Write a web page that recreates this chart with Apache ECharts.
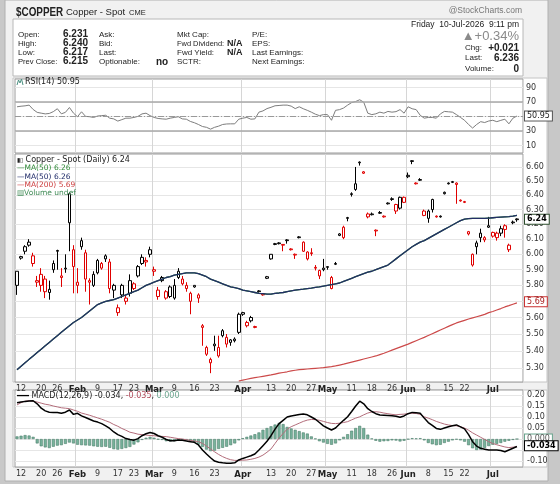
<!DOCTYPE html>
<html>
<head>
<meta charset="utf-8">
<script src="https://cdn.jsdelivr.net/npm/echarts/dist/echarts.min.js"></script>
<style>
  html, body { margin: 0; padding: 0; background: #c8c8c8; }
  #main { width: 560px; height: 484px; }
</style>
</head>
<body>
<div id="main"></div>
<script>
// trading days Jan 9 .. Jul 10 2026 (CME holidays left out)
var holidays = ['2026-01-19', '2026-02-16', '2026-04-03', '2026-05-25', '2026-06-19', '2026-07-03'];
var dates = [];
for (var t = Date.UTC(2026, 0, 9); t <= Date.UTC(2026, 6, 10); t += 86400000) {
    var d = new Date(t), wd = d.getUTCDay(), s = d.toISOString().slice(0, 10);
    if (wd > 0 && wd < 6 && holidays.indexOf(s) < 0) dates.push(s);
}
dates.push(''); // a little room right of the last candle

var tickDates = ['2026-01-12', '2026-01-20', '2026-01-26', '2026-02-02', '2026-02-09', '2026-02-17', '2026-02-23',
    '2026-03-02', '2026-03-09', '2026-03-16', '2026-03-23', '2026-04-01', '2026-04-13', '2026-04-20', '2026-04-27',
    '2026-05-01', '2026-05-11', '2026-05-18', '2026-05-26', '2026-06-01', '2026-06-08', '2026-06-15', '2026-06-22',
    '2026-07-01', '2026-07-06'];
var tickTexts = ['12', '20', '26', 'Feb', '9', '17', '23', 'Mar', '9', '16', '23', 'Apr', '13', '20', '27',
    'May', '11', '18', '26', 'Jun', '8', '15', '22', 'Jul', '6'];
var monthDates = ['2026-02-02', '2026-03-02', '2026-04-01', '2026-05-01', '2026-06-01', '2026-07-01'];

var priceTicks = [5.30, 5.40, 5.50, 5.60, 5.70, 5.80, 5.90, 6.00, 6.10, 6.20, 6.30, 6.40, 6.50, 6.60];
var rsiTicks = [10, 30, 50, 70, 90];
var macdTicks = [-0.10, -0.05, 0, 0.05, 0.10, 0.15, 0.20];
var macdLabelTicks = [-0.10, 0.05, 0.10, 0.15, 0.20];

var opens = [5.80, 5.975, 6.05, 6.08, 5.94, 5.83, 5.87, 5.84, 5.755, 5.90,
    6.02, 5.86, 5.905, 6.41, 6.03, 5.80, 6.05, 6.01, 5.83, 5.80,
    5.88, 5.94, 5.99, 5.95, 5.77, 5.66, 5.74, 5.70, 5.75, 5.81,
    5.86, 5.94, 5.96, 6.03, 5.90, 5.73, 5.83, 5.72, 5.73, 5.72,
    5.85, 5.81, 5.78, 5.75, 5.80, 5.74, 5.54, 5.38, 5.35, 5.43,
    5.37, 5.49, 5.48, 5.45, 5.46, 5.51, 5.62, 5.55, 5.60, 5.545,
    5.76, 5.745, 5.845, 6.00, 6.065, 6.07, 6.065, 6.09, 6.035, 6.00,
    6.11, 6.02, 5.97, 6.01, 5.915, 5.895, 5.90, 5.915, 5.85, 5.935,
    6.125, 6.18, 6.24, 6.405, 6.44, 6.63, 6.555, 6.27, 6.265, 6.16,
    6.275, 6.255, 6.34, 6.37, 6.335, 6.31, 6.385, 6.53, 6.64, 6.485,
    6.505, 6.29, 6.24, 6.37, 6.255, 6.25, 6.41, 6.48, 6.49, 6.485,
    6.365, 6.355, 6.15, 6.00, 6.05, 6.11, 6.11, 6.18, 6.145, 6.14,
    6.14, 6.19, 6.03, 6.21, 6.231];
var highs = [5.89, 5.99, 6.06, 6.10, 6.01, 5.86, 5.91, 5.86, 5.83, 5.96,
    6.03, 5.91, 6.00, 6.42, 6.06, 5.91, 6.11, 6.03, 5.845, 5.89,
    5.97, 5.95, 6.00, 5.97, 5.81, 5.68, 5.81, 5.74, 5.87, 5.82,
    5.93, 6.00, 5.98, 6.05, 5.92, 5.79, 5.86, 5.77, 5.80, 5.84,
    5.91, 5.86, 5.82, 5.76, 5.80, 5.75, 5.56, 5.43, 5.36, 5.49,
    5.49, 5.53, 5.50, 5.47, 5.48, 5.63, 5.635, 5.58, 5.61, 5.55,
    5.77, 5.75, 5.86, 6.00, 6.075, 6.08, 6.065, 6.10, 6.04, 6.005,
    6.12, 6.085, 6.02, 6.04, 5.93, 5.90, 5.97, 5.92, 5.86, 5.95,
    6.14, 6.19, 6.25, 6.42, 6.60, 6.64, 6.57, 6.28, 6.28, 6.165,
    6.29, 6.26, 6.35, 6.385, 6.34, 6.39, 6.39, 6.56, 6.65, 6.49,
    6.52, 6.30, 6.30, 6.375, 6.26, 6.26, 6.425, 6.49, 6.50, 6.49,
    6.37, 6.36, 6.155, 6.005, 6.09, 6.17, 6.12, 6.25, 6.15, 6.15,
    6.19, 6.20, 6.07, 6.225, 6.240];
var lows = [5.74, 5.965, 6.00, 6.05, 5.92, 5.79, 5.76, 5.72, 5.71, 5.88,
    5.90, 5.79, 5.88, 6.02, 5.75, 5.75, 6.03, 5.76, 5.68, 5.79,
    5.87, 5.90, 5.95, 5.75, 5.72, 5.61, 5.72, 5.68, 5.73, 5.77,
    5.85, 5.93, 5.92, 5.98, 5.86, 5.71, 5.82, 5.71, 5.72, 5.71,
    5.84, 5.80, 5.76, 5.62, 5.785, 5.69, 5.43, 5.37, 5.27, 5.40,
    5.36, 5.48, 5.42, 5.43, 5.45, 5.50, 5.61, 5.54, 5.57, 5.535,
    5.755, 5.735, 5.84, 5.965, 6.06, 6.065, 6.02, 6.07, 6.025, 5.97,
    6.105, 6.015, 5.96, 5.99, 5.895, 5.84, 5.89, 5.90, 5.775, 5.93,
    6.12, 6.10, 6.22, 6.39, 6.43, 6.61, 6.55, 6.24, 6.26, 6.12,
    6.27, 6.245, 6.335, 6.36, 6.27, 6.30, 6.345, 6.52, 6.62, 6.475,
    6.50, 6.255, 6.21, 6.28, 6.245, 6.245, 6.405, 6.475, 6.485, 6.34,
    6.355, 6.345, 6.125, 5.92, 6.00, 6.08, 6.08, 6.175, 6.11, 6.09,
    6.12, 6.11, 6.015, 6.20, 6.217];
var closes = [5.89, 5.985, 6.02, 6.06, 5.99, 5.82, 5.80, 5.76, 5.775, 5.94,
    6.025, 5.85, 5.91, 6.21, 5.92, 5.82, 6.09, 5.84, 5.82, 5.87,
    5.96, 5.91, 5.97, 5.78, 5.80, 5.63, 5.80, 5.72, 5.83, 5.78,
    5.92, 5.98, 5.95, 6.00, 5.89, 5.77, 5.85, 5.76, 5.79, 5.80,
    5.89, 5.84, 5.80, 5.70, 5.79, 5.72, 5.55, 5.42, 5.33, 5.44,
    5.42, 5.52, 5.44, 5.465, 5.47, 5.62, 5.63, 5.57, 5.58, 5.54,
    5.765, 5.74, 5.855, 5.97, 6.07, 6.075, 6.06, 6.095, 6.03, 5.995,
    6.115, 6.08, 6.015, 6.005, 5.91, 5.86, 5.91, 5.92, 5.78, 5.94,
    6.135, 6.11, 6.245, 6.41, 6.48, 6.635, 6.565, 6.25, 6.27, 6.155,
    6.28, 6.25, 6.345, 6.375, 6.29, 6.385, 6.35, 6.54, 6.645, 6.48,
    6.51, 6.26, 6.29, 6.30, 6.25, 6.255, 6.42, 6.485, 6.495, 6.475,
    6.36, 6.35, 6.135, 5.93, 6.075, 6.14, 6.095, 6.19, 6.12, 6.11,
    6.17, 6.165, 6.06, 6.215, 6.236];

var ma50 = [5.29, 5.31, 5.33, 5.35, 5.37, 5.39, 5.41, 5.43, 5.45, 5.47,
    5.49, 5.51, 5.53, 5.55, 5.57, 5.585, 5.60, 5.62, 5.64, 5.66,
    5.68, 5.69, 5.70, 5.705, 5.71, 5.72, 5.73, 5.74, 5.75, 5.76,
    5.77, 5.785, 5.80, 5.81, 5.82, 5.83, 5.84, 5.85, 5.855, 5.865,
    5.87, 5.875, 5.88, 5.88, 5.88, 5.875, 5.865, 5.855, 5.84, 5.83,
    5.82, 5.81, 5.80, 5.79, 5.785, 5.78, 5.77, 5.765, 5.76, 5.755,
    5.75, 5.748, 5.745, 5.745, 5.75, 5.752, 5.755, 5.76, 5.765, 5.77,
    5.773, 5.776, 5.78, 5.783, 5.787, 5.79, 5.795, 5.80, 5.805, 5.81,
    5.815, 5.825, 5.835, 5.845, 5.855, 5.865, 5.875, 5.885, 5.89, 5.90,
    5.91, 5.92, 5.93, 5.95, 5.97, 5.99, 6.01, 6.03, 6.05, 6.065,
    6.08, 6.09, 6.105, 6.12, 6.135, 6.15, 6.165, 6.18, 6.195, 6.21,
    6.225, 6.235, 6.238, 6.24, 6.24, 6.24, 6.24, 6.242, 6.244, 6.246,
    6.248, 6.25, 6.252, 6.255, 6.26];
var ma200 = ['-', '-', '-', '-', '-', '-', '-', '-', '-', '-',
    '-', '-', '-', '-', '-', '-', '-', '-', '-', '-',
    '-', '-', '-', '-', '-', '-', '-', '-', '-', '-',
    '-', '-', '-', '-', '-', '-', '-', '-', '-', '-',
    '-', '-', '-', '-', '-', '-', '-', '-', '-', '-',
    '-', '-', '-', '-', '-', 5.225, 5.23, 5.235, 5.24, 5.244,
    5.248, 5.252, 5.256, 5.26, 5.265, 5.27, 5.274, 5.278, 5.283, 5.287,
    5.29, 5.292, 5.294, 5.296, 5.298, 5.30, 5.302, 5.305, 5.308, 5.312,
    5.317, 5.322, 5.328, 5.334, 5.34, 5.346, 5.352, 5.358, 5.364, 5.37,
    5.378, 5.386, 5.395, 5.404, 5.413, 5.422, 5.431, 5.44, 5.45, 5.46,
    5.47, 5.48, 5.491, 5.502, 5.513, 5.524, 5.535, 5.546, 5.557, 5.567,
    5.575, 5.583, 5.591, 5.598, 5.605, 5.612, 5.619, 5.63, 5.637, 5.646,
    5.655, 5.665, 5.673, 5.682, 5.69];

var rsi = [63.7, 64.5, 65, 66, 60, 56, 54.9, 53.9, 54.5, 57,
    61, 54, 56, 62.7, 55, 50, 56.8, 50.5, 50, 49,
    51, 51.5, 52, 48, 47, 44, 46, 48, 48, 49,
    50.5, 53.9, 54.9, 51.5, 49, 47.6, 47, 46.6, 48, 49,
    50, 47, 46.6, 43.5, 41.7, 39.3, 36.5, 35.4, 32.9, 35.4,
    37, 39.3, 40, 40.2, 40.2, 46.6, 48, 49, 46.6, 47,
    56.3, 58, 61.2, 63, 65.1, 65.5, 66, 66, 64.6, 61.2,
    63.7, 61, 58.8, 56.3, 53.5, 51.5, 52.9, 52.9, 45.1, 58.8,
    59.8, 62, 66, 69.5, 71, 73.4, 70, 54.9, 52.9, 54,
    56.3, 54.9, 57.3, 56.3, 57, 59.8, 54.9, 63.7, 61, 59.8,
    52, 48, 49, 49, 48, 53.9, 57.3, 56.8, 56.3, 52.9,
    49, 45.1, 39.3, 34.4, 39.3, 43.2, 42, 44.1, 45.1, 43.2,
    45, 46.6, 40.2, 48, 50.95];

var macd = [0.165, 0.168, 0.171, 0.173, 0.174, 0.16, 0.14, 0.128, 0.122, 0.12,
    0.121, 0.117, 0.122, 0.132, 0.112, 0.117, 0.105, 0.098, 0.09, 0.082,
    0.077, 0.07, 0.06, 0.048, 0.032, 0.02, 0.012, 0.002, -0.002, -0.005,
    0.002, 0.015, 0.024, 0.03, 0.025, 0.015, 0.008, -0.002, -0.008, -0.008,
    -0.004, -0.006, -0.009, -0.012, -0.015, -0.027, -0.05, -0.068, -0.085, -0.1,
    -0.105, -0.108, -0.11, -0.11, -0.108, -0.095, -0.088, -0.082, -0.076, -0.068,
    -0.05, -0.03, -0.01, 0.015, 0.045, 0.07, 0.085, 0.1, 0.105, 0.108,
    0.111, 0.114, 0.11, 0.1, 0.09, 0.075, 0.06, 0.05, 0.041, 0.05,
    0.068, 0.085, 0.101, 0.125, 0.15, 0.172, 0.16, 0.138, 0.125, 0.115,
    0.109, 0.108, 0.107, 0.106, 0.103, 0.099, 0.105, 0.115, 0.121, 0.119,
    0.117, 0.095, 0.075, 0.062, 0.048, 0.044, 0.05, 0.056, 0.06, 0.064,
    0.055, 0.046, 0.02, -0.012, -0.032, -0.042, -0.046, -0.05, -0.05, -0.05,
    -0.052, -0.058, -0.05, -0.042, -0.034];
var signal = [0.155, 0.165, 0.172, 0.174, 0.172, 0.168, 0.163, 0.158, 0.155, 0.15,
    0.146, 0.142, 0.14, 0.138, 0.132, 0.126, 0.118, 0.113, 0.108, 0.102,
    0.096, 0.09, 0.083, 0.076, 0.066, 0.058, 0.048, 0.04, 0.031, 0.027,
    0.022, 0.02, 0.018, 0.016, 0.015, 0.013, 0.012, 0.011, 0.008, 0.005,
    0.002, 0, -0.003, -0.006, -0.009, -0.012, -0.02, -0.032, -0.045, -0.058,
    -0.07, -0.08, -0.088, -0.094, -0.097, -0.097, -0.096, -0.095, -0.092, -0.088,
    -0.082, -0.073, -0.06, -0.045, -0.02, 0.005, 0.025, 0.045, 0.056, 0.064,
    0.072, 0.08, 0.086, 0.089, 0.088, 0.085, 0.08, 0.075, 0.071, 0.07,
    0.072, 0.075, 0.079, 0.087, 0.095, 0.101, 0.11, 0.118, 0.123, 0.124,
    0.122, 0.118, 0.115, 0.112, 0.11, 0.112, 0.113, 0.116, 0.117, 0.116,
    0.112, 0.101, 0.095, 0.088, 0.08, 0.074, 0.068, 0.064, 0.061, 0.06,
    0.056, 0.05, 0.04, 0.028, 0.018, 0.008, -0.002, -0.012, -0.02, -0.026,
    -0.031, -0.036, -0.039, -0.037, -0.035];
var hist = [0.012, 0.015, 0.018, 0.016, 0.01, -0.02, -0.033, -0.038, -0.041, -0.035,
    -0.03, -0.028, -0.022, -0.016, -0.02, -0.026, -0.028, -0.029, -0.03, -0.033,
    -0.035, -0.036, -0.035, -0.04, -0.046, -0.048, -0.045, -0.041, -0.036, -0.025,
    -0.015, -0.004, 0.006, 0.01, 0.006, -0.002, -0.004, -0.01, -0.011, -0.01,
    -0.006, -0.005, -0.005, -0.008, -0.015, -0.025, -0.036, -0.048, -0.055, -0.053,
    -0.045, -0.04, -0.035, -0.028, -0.02, -0.006, 0.004, 0.01, 0.016, 0.022,
    0.03, 0.042, 0.05, 0.058, 0.066, 0.073, 0.068, 0.055, 0.048, 0.042,
    0.036, 0.03, 0.025, 0.012, 0.002, -0.01, -0.016, -0.022, -0.026, -0.02,
    -0.006, 0.01, 0.022, 0.038, 0.05, 0.06, 0.05, 0.02, 0.002, -0.008,
    -0.012, -0.01, -0.009, -0.006, -0.007, -0.011, -0.008, -0.001, 0.004, 0.003,
    0.004, -0.006, -0.018, -0.024, -0.028, -0.026, -0.018, -0.012, -0.006, -0.002,
    -0.006, -0.012, -0.028, -0.042, -0.05, -0.048, -0.04, -0.032, -0.026, -0.022,
    -0.018, -0.012, -0.008, -0.004, 0.000];

var FONT = 'DejaVu Sans';
var HFONT = 'Liberation Sans';

var tickMap = {};
tickDates.forEach(function (dt, k) { tickMap[dt] = tickTexts[k]; });

// price panel uses a log scale: plot ln(price) on a value axis
var ln = Math.log;
var candles = closes.map(function (c, i) {
    var up = i === 0 || c >= closes[i - 1];
    var col = up ? '#000000' : '#e00000';
    return {
        value: [ln(opens[i]), ln(c), ln(lows[i]), ln(highs[i])],
        itemStyle: { color: '#ffffff', color0: col, borderColor: col, borderColor0: col, borderWidth: 1 }
    };
});
function lnArr(a) { return a.map(function (v) { return v === '-' ? '-' : ln(v); }); }

function valueBox(val, text, border, color, bold) {
    return {
        yAxis: val,
        lineStyle: { width: 1, color: 'rgba(0,0,0,0)', type: 'solid' },
        label: {
            show: true, position: 'end', distance: 2, formatter: text,
            backgroundColor: '#fff', borderColor: border, borderWidth: 1, padding: [1, 2, 0, 2],
            color: color, fontSize: 8, fontWeight: bold ? 'bold' : 'normal', fontFamily: FONT
        }
    };
}

function makeX(gi, showLabels) {
    return {
        type: 'category', gridIndex: gi, data: dates, boundaryGap: true,
        axisLine: { show: false }, axisTick: { show: false },
        axisLabel: {
            show: showLabels, margin: 3, color: '#333', fontSize: 8, fontFamily: FONT,
            interval: function (i, v) { return tickMap[v] !== undefined; },
            formatter: function (v) {
                var t = tickMap[v];
                if (t === undefined) return '';
                return /^[A-Z]/.test(t) ? '{m|' + t + '}' : t;
            },
            rich: { m: { fontWeight: 'bold', fontSize: 8.5, fontFamily: FONT, color: '#222' } }
        },
        splitLine: {
            show: true,
            interval: function (i, v) { return monthDates.indexOf(v) >= 0; },
            lineStyle: { color: '#d6d6d6', width: 1 }
        }
    };
}

var gridBase = { left: 15, width: 508, show: true, backgroundColor: '#fff', borderColor: '#9a9a9a', borderWidth: 1 };

function txt(x, y, s, o) {
    o = o || {};
    return {
        type: 'text', x: x, y: y, z: 100, silent: true, scaleX: o.sx || 1,
        style: {
            text: s, fill: o.fill || '#222', fontSize: o.size || 8, fontWeight: o.bold ? 'bold' : 'normal',
            fontFamily: o.font || HFONT, textAlign: o.align || 'left', textVerticalAlign: 'middle',
            rich: o.rich
        }
    };
}

var graphics = [
    { type: 'rect', z: -10, silent: true, shape: { x: 5, y: 0, width: 543, height: 481 }, style: { fill: '#f1f1f1', stroke: '#b0b0b0' } },
    { type: 'rect', z: -9, silent: true, shape: { x: 13, y: 19, width: 510, height: 57 }, style: { fill: '#fff', stroke: '#b8b8b8' } },
    { type: 'rect', z: -9, silent: true, shape: { x: 13, y: 78, width: 534, height: 304 }, style: { fill: '#fff', stroke: '#c4c4c4' } },
    { type: 'rect', z: -9, silent: true, shape: { x: 13, y: 390, width: 534, height: 77 }, style: { fill: '#fff', stroke: '#c4c4c4' } },
    txt(16, 12, '$COPPER', { bold: true, size: 13, sx: 0.76 }),
    txt(66, 12.5, 'Copper - Spot', { size: 9.5 }),
    txt(129, 13, 'CME', { size: 7.5 }),
    txt(522, 11, '@StockCharts.com', { size: 8.5, fill: '#777', align: 'right' }),
    txt(519, 25, 'Friday  10-Jul-2026  9:11 pm', { size: 8.5, align: 'right' }),
    txt(519, 36, '▲+0.34%', { size: 13, fill: '#8a8a8a', align: 'right' }),
    txt(465, 48, 'Chg:', {}),
    txt(519, 48, '+0.021', { size: 10, bold: true, align: 'right' }),
    txt(465, 58, 'Last:', {}),
    txt(519, 58, '6.236', { size: 10, bold: true, align: 'right' }),
    txt(465, 69, 'Volume:', {}),
    txt(519, 69, '0', { size: 10, bold: true, align: 'right' }),
    txt(18, 34.5, 'Open:', {}), txt(63, 34.5, '6.231', { size: 10, bold: true }),
    txt(18, 43.5, 'High:', {}), txt(63, 43.5, '6.240', { size: 10, bold: true }),
    txt(18, 52.5, 'Low:', {}), txt(63, 52.5, '6.217', { size: 10, bold: true }),
    txt(18, 61.5, 'Prev Close:', { sx: 0.95 }), txt(63, 61.5, '6.215', { size: 10, bold: true }),
    txt(99, 34.5, 'Ask:', {}),
    txt(99, 43.5, 'Bid:', {}),
    txt(99, 52.5, 'Last:', {}),
    txt(99, 61.5, 'Optionable:', {}), txt(156, 62, 'no', { size: 10, bold: true }),
    txt(177, 34.5, 'Mkt Cap:', {}),
    txt(177, 43.5, 'Fwd Dividend:', { sx: 0.93 }), txt(227, 43.5, 'N/A', { size: 9, bold: true }),
    txt(177, 52.5, 'Fwd Yield:', {}), txt(227, 52.5, 'N/A', { size: 9, bold: true }),
    txt(177, 61.5, 'SCTR:', {}),
    txt(252, 34.5, 'P/E:', {}),
    txt(252, 43.5, 'EPS:', {}),
    txt(252, 52.5, 'Last Earnings:', {}),
    txt(252, 61.5, 'Next Earnings:', {}),
    // panel legends
    { type: 'polyline', z: 100, silent: true, shape: { points: [[17, 85], [18.5, 80], [20, 83], [21.5, 79], [23, 85]] }, style: { stroke: '#4a8f80', fill: null, lineWidth: 1 } },
    txt(25, 82, 'RSI(14) 50.95', { font: FONT }),
    txt(17, 160, '{i|▮▯} Copper - Spot (Daily) 6.24', { font: FONT, rich: { i: { fontSize: 6, fill: '#222' } } }),
    txt(17, 168.5, '—MA(50) 6.26', { size: 7.5, font: FONT, fill: '#2f8a38' }),
    txt(17, 177, '—MA(50) 6.26', { size: 7.5, font: FONT, fill: '#1f2b68' }),
    txt(17, 185.5, '—MA(200) 5.69', { size: 7.5, font: FONT, fill: '#cc3b3b' }),
    txt(17, 193.5, '▥Volume undef', { size: 7.5, font: FONT, fill: '#3f8a55' }),
    txt(17, 396, '{k|—} MACD(12,26,9) -0.034, {r|-0.035}, {g|0.000}', {
        font: FONT,
        rich: { k: { fontWeight: 'bold', fill: '#000' }, r: { fill: '#b04a5a' }, g: { fill: '#6aa58e' } }
    })
];

var chart = echarts.init(document.getElementById('main'));
chart.setOption({
    animation: false,
    backgroundColor: '#c8c8c8',
    graphic: graphics,
    grid: [
        Object.assign({ top: 79, height: 74 }, gridBase),
        Object.assign({ top: 154, height: 228 }, gridBase),
        Object.assign({ top: 390, height: 77 }, gridBase)
    ],
    xAxis: [makeX(0, false), makeX(1, true), makeX(2, true)],
    yAxis: [
        {
            type: 'value', gridIndex: 0, position: 'right', min: 0, max: 102,
            axisLine: { show: false },
            axisTick: { show: false, customValues: rsiTicks },
            axisLabel: {
                customValues: [10, 30, 70, 90], margin: 3, fontSize: 8, color: '#333', fontFamily: FONT
            },
            splitLine: { lineStyle: { color: '#e6e6e6' } }
        },
        {
            type: 'value', gridIndex: 1, position: 'right',
            min: ln(5.2195), max: ln(6.694),
            axisLine: { show: false },
            axisTick: { show: false, customValues: priceTicks.map(ln) },
            axisLabel: {
                customValues: priceTicks.map(ln), margin: 3, fontSize: 8, color: '#333', fontFamily: FONT,
                formatter: function (v) { return Math.exp(v).toFixed(2); }
            },
            splitLine: { lineStyle: { color: '#e6e6e6' } }
        },
        {
            type: 'value', gridIndex: 2, position: 'right', min: -0.127, max: 0.2227,
            axisLine: { show: false },
            axisTick: { show: false, customValues: macdTicks },
            axisLabel: {
                customValues: macdLabelTicks, margin: 4, fontSize: 8, color: '#333', fontFamily: FONT,
                formatter: function (v) { return v.toFixed(2); }
            },
            splitLine: { lineStyle: { color: '#e6e6e6' } }
        }
    ],
    series: [
        {
            name: 'RSI(14)', type: 'line', xAxisIndex: 0, yAxisIndex: 0, data: rsi,
            symbol: 'none', lineStyle: { color: '#7d7d7d', width: 1 },
            markLine: {
                silent: true, symbol: 'none', label: { show: false },
                data: [
                    { yAxis: 70, lineStyle: { color: '#a9a9a9', width: 1.5, type: 'solid' } },
                    { yAxis: 30, lineStyle: { color: '#a9a9a9', width: 1.5, type: 'solid' } },
                    { yAxis: 50, lineStyle: { color: '#999', width: 1, type: [6, 2, 1, 2] } },
                    valueBox(50.95, '50.95', '#555', '#222', false)
                ]
            }
        },
        {
            name: 'Copper', type: 'candlestick', xAxisIndex: 1, yAxisIndex: 1, data: candles,
            barWidth: 3,
            markLine: {
                silent: true, symbol: 'none',
                data: [valueBox(ln(6.236), '6.24', '#2d4d2d', '#000', true)]
            }
        },
        {
            name: 'MA(50)', type: 'line', xAxisIndex: 1, yAxisIndex: 1, data: lnArr(ma50),
            symbol: 'none', lineStyle: { color: '#2f8a38', width: 1.3 }
        },
        {
            name: 'MA(50) ', type: 'line', xAxisIndex: 1, yAxisIndex: 1, data: lnArr(ma50),
            symbol: 'none', lineStyle: { color: '#232e66', width: 1.3 }
        },
        {
            name: 'MA(200)', type: 'line', xAxisIndex: 1, yAxisIndex: 1, data: lnArr(ma200),
            symbol: 'none', lineStyle: { color: '#cc4a4a', width: 1.2 },
            markLine: {
                silent: true, symbol: 'none',
                data: [valueBox(ln(5.69), '5.69', '#cc3333', '#aa2222', false)]
            }
        },
        {
            name: 'Histogram', type: 'bar', xAxisIndex: 2, yAxisIndex: 2, data: hist,
            barWidth: 3,
            itemStyle: { color: '#78b39c', borderColor: '#4d7f6c', borderWidth: 0.6 },
            markLine: {
                silent: true, symbol: 'none',
                data: [valueBox(0, '0.000', '#6aa58e', '#555', false)]
            }
        },
        {
            name: 'Signal', type: 'line', xAxisIndex: 2, yAxisIndex: 2, data: signal,
            symbol: 'none', lineStyle: { color: '#b36d7b', width: 1 }
        },
        {
            name: 'MACD', type: 'line', xAxisIndex: 2, yAxisIndex: 2, data: macd,
            symbol: 'none', lineStyle: { color: '#000', width: 1.5 },
            markLine: {
                silent: true, symbol: 'none',
                data: [valueBox(-0.034, '-0.034', '#000', '#000', true)]
            }
        }
    ]
});
</script>
</body>
</html>
